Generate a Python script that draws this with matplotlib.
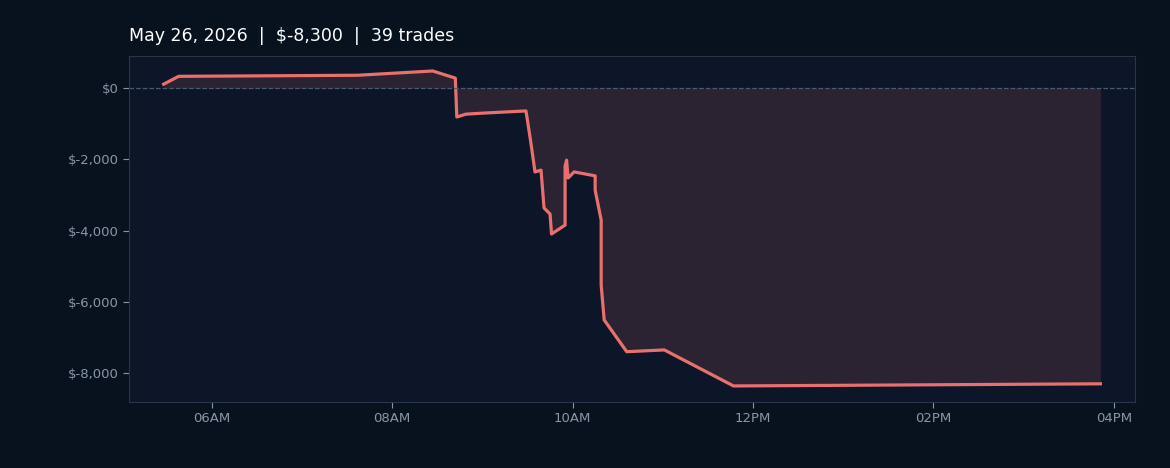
import matplotlib
matplotlib.use("Agg")
import matplotlib.pyplot as plt
import matplotlib.dates as mdates
import numpy as np
import pandas as pd

# Cumulative P&L over the day (time, dollars)
times = ["05:28", "05:38", "07:37", "08:27", "08:42", "08:43", "08:49", "09:01",
         "09:29", "09:32", "09:35", "09:39", "09:41", "09:45", "09:46", "09:55",
         "09:55", "09:56", "09:57", "10:01", "10:15", "10:15", "10:19", "10:19",
         "10:21", "10:36", "11:01", "11:47", "15:51"]
pnl = [110, 330, 360, 480, 280, -810, -730, -700,
       -640, -1460, -2350, -2300, -3360, -3530, -4090, -3840,
       -2190, -2020, -2520, -2350, -2460, -2860, -3700, -5520,
       -6500, -7390, -7340, -8350, -8290]
title = "May 26, 2026  |  $-8,300  |  39 trades"

t = pd.to_datetime(["2026-05-26 " + s for s in times])
pnl = np.array(pnl)

fig = plt.figure(figsize=(11.7, 4.68), dpi=100, facecolor="#08111e")
ax = fig.add_axes([129 / 1170, 66 / 468, 1006 / 1170, 346 / 468])
ax.set_facecolor("#0c1628")

ax.fill_between(t, pnl, 0, color="#e06c6c", alpha=0.15, linewidth=0)
ax.plot(t, pnl, color="#e8706e", linewidth=2.3)
ax.axhline(0, color="#4a5a70", linestyle="--", linewidth=0.9)

ax.set_xlim(pd.Timestamp("2026-05-26 05:05"), pd.Timestamp("2026-05-26 16:14"))
ax.set_ylim(-8800, 900)
ax.xaxis.set_major_locator(mdates.HourLocator(byhour=[6, 8, 10, 12, 14, 16]))
ax.xaxis.set_major_formatter(mdates.DateFormatter("%I%p"))
ax.set_yticks([0, -2000, -4000, -6000, -8000])
ax.yaxis.set_major_formatter(plt.FuncFormatter(lambda v, p: f"${v:,.0f}"))
ax.tick_params(colors="#8a96a8", labelsize=9.5, length=4)
for s in ax.spines.values():
    s.set_color("#2a3648")

fig.text(129 / 1170, 1 - 36 / 468, title, color="white", fontsize=12.5,
         va="center", ha="left")

fig.savefig("out.png", facecolor=fig.get_facecolor())
